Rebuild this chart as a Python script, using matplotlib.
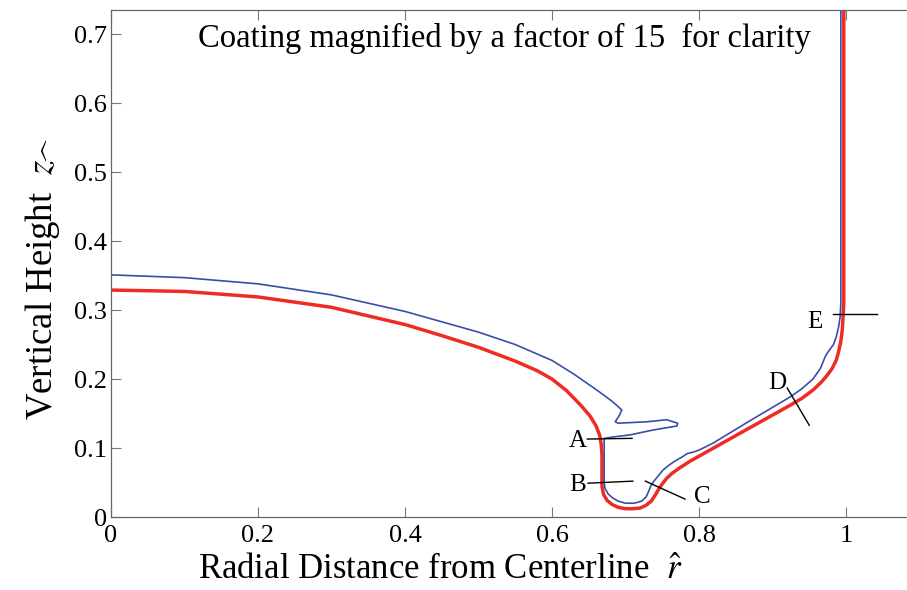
import matplotlib
matplotlib.use("Agg")
import matplotlib.pyplot as plt

plt.rcParams['font.family'] = ['Liberation Serif', 'DejaVu Serif']
plt.rcParams['mathtext.fontset'] = 'stix'

fontsize_tick = 19
fontsize_xlabel = 25
fontsize_ylabel = 26.5
fontsize_note = 23.5
fontsize_mark = 18

# substrate surface (red)
substrate_r = [0.0, 0.1, 0.2, 0.3, 0.4, 0.45, 0.5, 0.55, 0.58, 0.60, 0.62, 0.64,
               0.652, 0.66, 0.665, 0.667, 0.668, 0.668, 0.670, 0.675, 0.682, 0.690,
               0.700, 0.710, 0.720, 0.728, 0.735, 0.740, 0.745, 0.750, 0.756, 0.763,
               0.772, 0.788, 0.85, 0.924, 0.94, 0.955, 0.966, 0.974, 0.981, 0.987,
               0.990, 0.993, 0.995, 0.996, 0.997, 0.997]
substrate_z = [0.329, 0.327, 0.319, 0.304, 0.279, 0.263, 0.246, 0.226, 0.212, 0.200, 0.183, 0.161,
               0.146, 0.132, 0.118, 0.105, 0.090, 0.045, 0.033, 0.024, 0.018, 0.014,
               0.012, 0.012, 0.013, 0.017, 0.023, 0.031, 0.040, 0.048, 0.056, 0.063,
               0.070, 0.081, 0.118, 0.162, 0.172, 0.184, 0.195, 0.205, 0.215, 0.228,
               0.240, 0.255, 0.272, 0.290, 0.310, 0.74]

# coating surface (blue), magnified x15
coating_r = [0.0, 0.1, 0.2, 0.3, 0.4, 0.45, 0.5, 0.55, 0.6, 0.63, 0.661, 0.679,
             0.688, 0.695, 0.692, 0.686, 0.690, 0.729, 0.756, 0.771, 0.770, 0.737,
             0.706, 0.683, 0.671, 0.671, 0.672, 0.676, 0.682, 0.690, 0.700, 0.712,
             0.722, 0.728, 0.731, 0.734, 0.738, 0.744, 0.751, 0.759, 0.767, 0.777,
             0.784, 0.792, 0.800, 0.819, 0.87, 0.924, 0.94, 0.955, 0.965, 0.972,
             0.976, 0.983, 0.987, 0.990, 0.992, 0.993, 0.993]
coating_z = [0.351, 0.347, 0.338, 0.322, 0.298, 0.283, 0.268, 0.250, 0.227, 0.207, 0.184, 0.170,
             0.162, 0.155, 0.148, 0.138, 0.136, 0.138, 0.141, 0.136, 0.132, 0.126,
             0.119, 0.116, 0.114, 0.050, 0.042, 0.034, 0.028, 0.023, 0.020, 0.020,
             0.023, 0.029, 0.036, 0.044, 0.051, 0.059, 0.068, 0.075, 0.081, 0.087,
             0.092, 0.094, 0.097, 0.107, 0.140, 0.174, 0.186, 0.200, 0.215, 0.233,
             0.240, 0.250, 0.262, 0.276, 0.290, 0.310, 0.74]

# station labels and their leader lines
station_names = ['A', 'B', 'C', 'D', 'E']
station_text = [(0.635, 0.110), (0.635, 0.046), (0.805, 0.029), (0.906, 0.194), (0.958, 0.283)]
station_lines = [((0.648, 0.709), (0.113, 0.114)),
                 ((0.649, 0.710), (0.049, 0.052)),
                 ((0.727, 0.781), (0.052, 0.026)),
                 ((0.920, 0.950), (0.187, 0.133)),
                 ((0.982, 1.042), (0.294, 0.294))]

x_ticks = [0, 0.2, 0.4, 0.6, 0.8, 1]
x_tick_labels = ['0', '0.2', '0.4', '0.6', '0.8', '1']
y_ticks = [0, 0.1, 0.2, 0.3, 0.4, 0.5, 0.6, 0.7]
y_tick_labels = ['0', '0.1', '0.2', '0.3', '0.4', '0.5', '0.6', '0.7']

fig = plt.figure(figsize=(9.07, 5.90), dpi=100)
ax = fig.add_axes([111 / 907, 73 / 590, 796 / 907, 507 / 590])

ax.plot(substrate_r, substrate_z, color='#ee2c24', linewidth=2.5, solid_joinstyle='round')
ax.plot(coating_r, coating_z, color='#3a4ea6', linewidth=1.2, solid_joinstyle='round')

for name, (tx, ty), (lx, ly) in zip(station_names, station_text, station_lines):
    ax.plot(lx, ly, color='black', linewidth=1.0)
    ax.text(tx, ty, name, ha='center', va='center', fontsize=fontsize_mark)

ax.text(0.535, 0.694, 'Coating magnified by a factor of 15  for clarity',
        ha='center', va='center', fontsize=fontsize_note)

ax.set_xlim(0, 796 / 735)
ax.set_ylim(0, 0.735)
ax.set_xticks(x_ticks, x_tick_labels)
ax.set_yticks(y_ticks, y_tick_labels)
ax.tick_params(direction='in', top=True, right=False, length=7, width=0.8,
               color='#777777', labelsize=fontsize_tick)
ax.tick_params(axis='y', pad=3)
ax.tick_params(axis='x', pad=6)
for side in ['left', 'bottom', 'top']:
    ax.spines[side].set_color('#666666')
    ax.spines[side].set_linewidth(0.9)
ax.spines['right'].set_visible(False)

ax.set_xlabel(r'Radial Distance from Centerline  $\hat{r}$', fontsize=fontsize_xlabel)
# the hat sits just after the z in the original
ax.set_ylabel(r'Vertical Height  $z\!\widehat{\;\;\;}$', fontsize=fontsize_ylabel)
ax.xaxis.set_label_coords(0.413, -0.072)
ax.yaxis.set_label_coords(-0.062, 0.47)

fig.savefig('out.png', dpi=100)
